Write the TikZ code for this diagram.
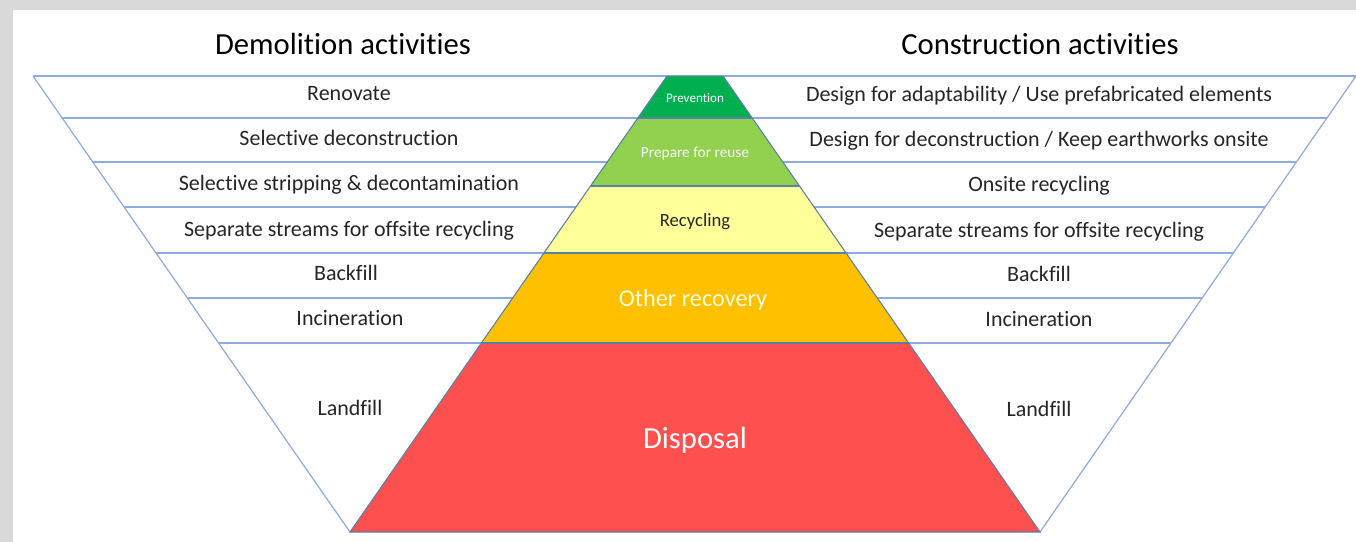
\documentclass[tikz,border=0pt]{standalone}
\usepackage{fontspec}
\setmainfont{Carlito}[Ligatures=NoCommon]
\usetikzlibrary{calc}
\definecolor{bandgray}{HTML}{D9D9D9}
\definecolor{funnel}{HTML}{8FAADC}
\definecolor{pyredge}{HTML}{5A7FA8}
\definecolor{cprev}{HTML}{00B050}
\definecolor{cprep}{HTML}{92D050}
\definecolor{crec}{HTML}{FFFF99}
\definecolor{coth}{HTML}{FFC000}
\definecolor{cdis}{HTML}{FF5050}
\definecolor{txt}{HTML}{262626}
\begin{document}
\begin{tikzpicture}[x=0.75pt,y=-0.75pt,
  lbl/.style={text=txt,font=\fontsize{16.5}{19}\selectfont,text height=0.7em,text depth=0.2em,inner sep=0pt},
  ttl/.style={text=black,font=\fontsize{23}{26}\selectfont,text height=0.7em,text depth=0.2em,inner sep=0pt},
  flin/.style={draw=funnel,line width=0.9pt},
  pyr/.style={text height=0.7em,text depth=0.2em,inner sep=0pt}]
\fill[bandgray] (0,0) rectangle (1356,542);
\fill[white] (13,10) rectangle (1356,542);
\useasboundingbox (0,0) rectangle (1356,542);
% corners
\coordinate (LT) at (33,76);
\coordinate (PL) at (667,76);
\coordinate (PR) at (723,76);
\coordinate (RT) at (1356,76);
\coordinate (LB) at (350,532);
\coordinate (RB) at (1040,532);
% pyramid layers
\fill[cprev] (PL) -- (PR) -- ($(PR)!0.0921!(RB)$) -- ($(PL)!0.0921!(LB)$) -- cycle;
\fill[cprep] ($(PL)!0.0921!(LB)$) -- ($(PR)!0.0921!(RB)$) -- ($(PR)!0.2412!(RB)$) -- ($(PL)!0.2412!(LB)$) -- cycle;
\fill[crec] ($(PL)!0.2412!(LB)$) -- ($(PR)!0.2412!(RB)$) -- ($(PR)!0.3882!(RB)$) -- ($(PL)!0.3882!(LB)$) -- cycle;
\fill[coth] ($(PL)!0.3882!(LB)$) -- ($(PR)!0.3882!(RB)$) -- ($(PR)!0.5855!(RB)$) -- ($(PL)!0.5855!(LB)$) -- cycle;
\fill[cdis] ($(PL)!0.5855!(LB)$) -- ($(PR)!0.5855!(RB)$) -- (RB) -- (LB) -- cycle;
% funnel lines
\draw[flin] (LT) -- (PL);
\draw[flin] (PR) -- (RT);
\draw[flin] (LT) -- (LB);
\draw[flin] (RT) -- (RB);
\foreach \t in {0.0921,0.1886,0.2873,0.3882,0.4868,0.5855}{
  \draw[flin] ($(LT)!\t!(LB)$) -- ($(PL)!\t!(LB)$);
  \draw[flin] ($(PR)!\t!(RB)$) -- ($(RT)!\t!(RB)$);
}
% pyramid outline and layer borders
\draw[pyredge,line width=0.8pt] (PL) -- (PR) -- (RB) -- (LB) -- cycle;
\foreach \t in {0.0921,0.2412,0.3882,0.5855}{
  \draw[pyredge,line width=0.8pt] ($(PL)!\t!(LB)$) -- ($(PR)!\t!(RB)$);
}
% titles
\node[ttl] (tdem) at (343,51) {Demolition activities};
\node[ttl] (tcon) at (1040,51) {Construction activities};
% left labels
\node[lbl] (l1) at (349,97) {Renovate};
\node[lbl] (l2) at (349,142) {Selective deconstruction};
\node[lbl] (l3) at (349,187) {Selective stripping \& decontamination};
\node[lbl] (l4) at (349,233) {Separate streams for offsite recycling};
\node[lbl] (l5) at (346,277) {Backfill};
\node[lbl] (l6) at (350,322) {Incineration};
\node[lbl] (l7) at (350,412) {Landfill};
% right labels
\node[lbl] (r1) at (1039,98) {Design for adaptability / Use prefabricated elements};
\node[lbl] (r2) at (1039,143) {Design for deconstruction / Keep earthworks onsite};
\node[lbl] (r3) at (1039,188) {Onsite recycling};
\node[lbl] (r4) at (1039,234) {Separate streams for offsite recycling};
\node[lbl] (r5) at (1039,278) {Backfill};
\node[lbl] (r6) at (1039,323) {Incineration};
\node[lbl] (r7) at (1039,413) {Landfill};
% pyramid labels
\node[pyr,text=white,font=\fontsize{9.8}{12}\selectfont] (p1) at (695,99) {Prevention};
\node[pyr,text=white!95!gray,font=\fontsize{11.5}{13}\selectfont] (p2) at (695,154) {Prepare for reuse};
\node[pyr,text=txt,font=\fontsize{14}{16}\selectfont] (p3) at (695,223) {Recycling};
\node[pyr,text=white!85!yellow,font=\fontsize{18.2}{21}\selectfont] (p4) at (693,303) {Other recovery};
\node[pyr,text=white,font=\fontsize{23}{27}\selectfont] (p5) at (695,445) {Disposal};
\end{tikzpicture}
\end{document}
